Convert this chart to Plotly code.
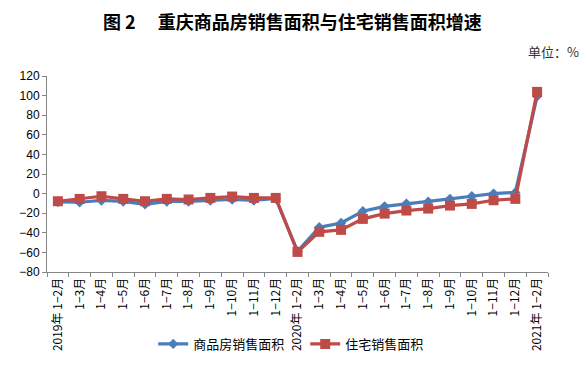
import plotly.graph_objects as go

periods = ["2019-02", "2019-03", "2019-04", "2019-05", "2019-06", "2019-07", "2019-08", "2019-09",
           "2019-10", "2019-11", "2019-12",
           "2020-02", "2020-03", "2020-04", "2020-05", "2020-06", "2020-07", "2020-08", "2020-09",
           "2020-10", "2020-11", "2020-12",
           "2021-02"]
tick_labels = ["2019年 1−2月", "1−3月", "1−4月", "1−5月", "1−6月", "1−7月", "1−8月", "1−9月",
               "1−10月", "1−11月", "1−12月",
               "2020年 1−2月", "1−3月", "1−4月", "1−5月", "1−6月", "1−7月", "1−8月", "1−9月",
               "1−10月", "1−11月", "1−12月",
               "2021年 1−2月"]
commercial = [-8.5, -8.8, -7.0, -8.0, -10.9, -8.0, -8.0, -7.0, -6.0, -7.0, -5.0,
              -59.0, -34.4, -30.0, -18.0, -13.0, -10.2, -8.2, -5.4, -2.7, 0.0, 1.2,
              99.3]
residential = [-7.8, -5.4, -2.7, -5.4, -7.8, -5.4, -6.0, -4.4, -3.0, -4.4, -4.4,
               -59.5, -39.0, -37.0, -25.8, -20.4, -17.3, -15.3, -12.2, -10.5, -6.8, -5.4,
               103.8]
y_ticks = [-80, -60, -40, -20, 0, 20, 40, 60, 80, 100, 120]
y_tick_labels = ["−80", "−60", "−40", "−20", "0", "20", "40", "60", "80", "100", "120"]

font_cjk = "Noto Sans CJK SC"

fig = go.Figure()
fig.add_trace(go.Scatter(
    x=periods, y=commercial, name="商品房销售面积", mode="lines+markers",
    line=dict(color="#4a7ebb", width=3.2),
    marker=dict(symbol="diamond", size=8, color="#4a7ebb"),
))
fig.add_trace(go.Scatter(
    x=periods, y=residential, name="住宅销售面积", mode="lines+markers",
    line=dict(color="#be4b48", width=3.2),
    marker=dict(symbol="square", size=10, color="#be4b48"),
))

# page body has an 8px margin, so the figure is 579x352 placed at (8, 8)
fig.update_layout(
    width=579, height=352,
    margin=dict(l=39, r=39, t=68, b=88, autoexpand=False),
    plot_bgcolor="white", paper_bgcolor="white",
    font=dict(family=font_cjk, size=12, color="#000000"),
    showlegend=True,
    legend=dict(orientation="h", x=0.212, xanchor="left", y=-0.367, yanchor="middle",
                entrywidth=107, entrywidthmode="pixels",
                font=dict(size=13, family=font_cjk), bgcolor="rgba(0,0,0,0)"),
    xaxis=dict(type="category", range=[-0.5, 22.5], tickmode="array",
               tickvals=periods, ticktext=tick_labels, tickangle=-90,
               showline=True, linecolor="#868686", linewidth=1,
               ticks="outside", ticklen=4, tickcolor="#868686", tickson="boundaries",
               showgrid=False, automargin=False, tickfont=dict(size=12, family=font_cjk)),
    yaxis=dict(range=[-80, 120], tickvals=y_ticks, ticktext=y_tick_labels,
               showline=True, linecolor="#868686", ticks="outside", ticklen=4,
               tickcolor="#868686", showgrid=False, zeroline=False, automargin=False,
               tickfont=dict(size=12, family="Liberation Sans")),
    annotations=[
        dict(text="<b>图 2　 重庆商品房销售面积与住宅销售面积增速</b>", xref="paper", yref="paper",
             x=0.5, y=1, xanchor="center", yanchor="middle", yshift=55, xshift=-5,
             showarrow=False, borderpad=0, font=dict(size=18, family=font_cjk)),
        dict(text="单位：%", xref="paper", yref="paper", x=1, y=1, xanchor="right",
             yanchor="middle", yshift=25, xshift=33, showarrow=False,
             font=dict(size=13, family=font_cjk, color="#333333")),
    ],
)

fig.write_html("out.html")
